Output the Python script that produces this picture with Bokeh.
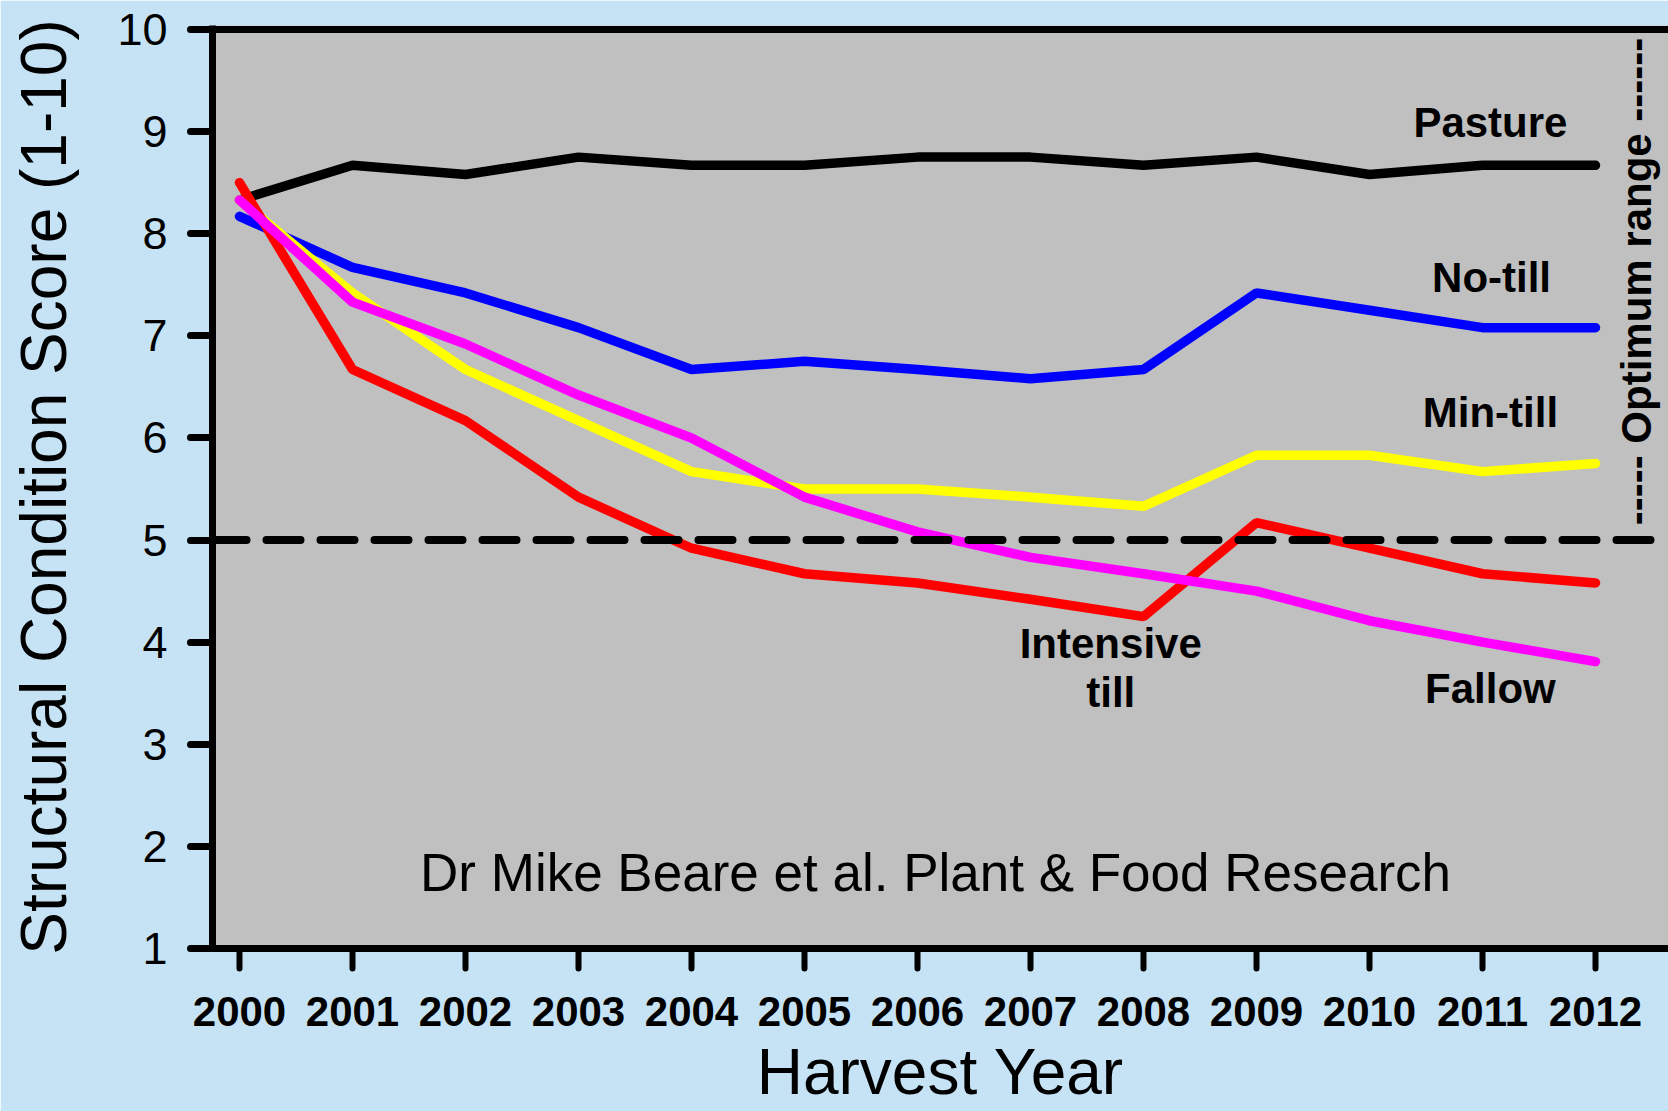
from bokeh.plotting import figure
from bokeh.models import FixedTicker, Span, Label, Range1d
from bokeh.embed import file_html
from bokeh.resources import INLINE

# ---- data ----
years = [2000, 2001, 2002, 2003, 2004, 2005, 2006, 2007, 2008, 2009, 2010, 2011, 2012]
pasture = [8.33, 8.67, 8.58, 8.75, 8.67, 8.67, 8.75, 8.75, 8.67, 8.75, 8.58, 8.67, 8.67]
no_till = [8.17, 7.67, 7.42, 7.08, 6.67, 6.75, 6.67, 6.58, 6.67, 7.42, 7.25, 7.08, 7.08]
min_till = [8.33, 7.42, 6.67, 6.17, 5.67, 5.50, 5.50, 5.42, 5.33, 5.83, 5.83, 5.67, 5.75]
intensive_till = [8.50, 6.67, 6.17, 5.42, 4.92, 4.67, 4.58, 4.42, 4.25, 5.17, 4.92, 4.67, 4.58]
fallow = [8.33, 7.33, 6.92, 6.42, 6.00, 5.42, 5.08, 4.83, 4.67, 4.50, 4.21, 4.00, 3.81]
y_ticks = [1, 2, 3, 4, 5, 6, 7, 8, 9, 10]
optimum_threshold = 5

FONT = "Liberation Sans"
BG = "#C6E3F5"

p = figure(width=1668, height=1111, output_backend="svg", toolbar_location=None,
           x_range=Range1d(1999.761, 2012.646), y_range=Range1d(1, 10.039),
           background_fill_color="#C0C0C0", border_fill_color=BG,
           min_border_left=212, min_border_top=25, min_border_right=0,
           min_border_bottom=163)
p.outline_line_color = None
p.grid.visible = False

# axes
p.yaxis.ticker = FixedTicker(ticks=y_ticks)
p.xaxis.ticker = FixedTicker(ticks=years)
for ax in (p.xaxis[0], p.yaxis[0]):
    ax.axis_line_width = 7
    ax.axis_line_color = "black"
    ax.major_tick_line_color = "black"
    ax.major_tick_line_cap = "round"
    ax.major_tick_in = 0
    ax.minor_tick_in = 0
    ax.minor_tick_out = 0
    ax.major_label_text_color = "black"
    ax.major_label_text_font = FONT
    ax.axis_label_text_font = FONT
    ax.axis_label_text_font_size = "64px"
    ax.axis_label_text_font_style = "normal"
    ax.axis_label_text_color = "black"
p.yaxis.major_tick_line_width = 7
p.yaxis.major_tick_out = 22
p.yaxis.major_label_text_font_size = "45px"
p.yaxis.major_label_standoff = 23
p.yaxis.axis_label = "Structural Condition Score (1-10)"
p.yaxis.axis_label_standoff = 34
p.xaxis.major_tick_line_width = 6
p.xaxis.major_tick_out = 20
p.xaxis.major_label_text_font_size = "42px"
p.xaxis.major_label_text_font_style = "bold"
p.xaxis.major_label_standoff = 28
p.xaxis.axis_label = "Harvest Year"
p.xaxis.axis_label_standoff = 7

# top border
p.add_layout(Span(location=10, dimension="width", line_color="black", line_width=7))

# series
series = [
    (pasture, "black"),
    (no_till, "#0000FF"),
    (min_till, "#FFFF00"),
    (intensive_till, "#FF0000"),
    (fallow, "#FF00FF"),
]
for ys, col in series:
    p.line(years, ys, line_color=col, line_width=9.5, line_cap="round")

# threshold dashed line
p.add_layout(Span(location=optimum_threshold, dimension="width", line_color="black",
                  line_width=8, line_dash="34 20", line_cap="round"))

def lab(x, y, text, size="42px", style="bold", angle=0.0):
    p.add_layout(Label(x=x, y=y, text=text, text_font=FONT, text_font_size=size,
                       text_font_style=style, text_align="center",
                       text_baseline="alphabetic", text_color="black", angle=angle))

lab(2011.07, 9.089, "Pasture")
lab(2011.08, 7.571, "No-till")
lab(2011.07, 6.249, "Min-till")
lab(2007.71, 3.986, "Intensive")
lab(2007.71, 3.506, "till")
lab(2011.07, 3.546, "Fallow")
lab(2006.16, 1.743, "Dr Mike Beare et al. Plant & Food Research", size="53px", style="normal")

# vertical "optimum range" note
lab(2012.365, 7.532, "----- Optimum range ------", angle=1.5708)

open("out.html", "w").write(file_html(p, INLINE))
